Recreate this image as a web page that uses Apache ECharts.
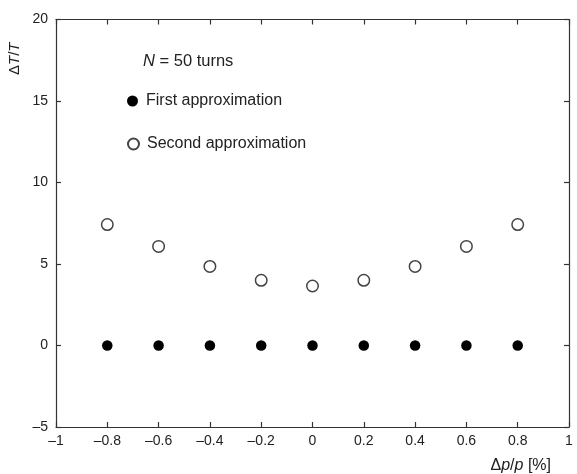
<!DOCTYPE html>
<html><head><meta charset="utf-8">
<script src="https://cdn.jsdelivr.net/npm/echarts@6/dist/echarts.min.js"></script>
<style>html,body{margin:0;padding:0;background:#fff}#c{width:577px;height:474px}</style>
</head><body><div id="c"></div>
<script>
const xValues = [-0.8, -0.6, -0.4, -0.2, 0, 0.2, 0.4, 0.6, 0.8];
const firstApprox = [0, 0, 0, 0, 0, 0, 0, 0, 0];
const secondApprox = [7.42, 6.08, 4.85, 4.0, 3.65, 4.0, 4.85, 6.08, 7.42];
const seriesNames = ['First approximation', 'Second approximation'];
const noteText = '50 turns';

const FONT = 'Liberation Sans, Arial, sans-serif';
const AX = '#333';
const fmt = v => String(Math.round(v*10)/10).replace('-', '\u2013');

const chart = echarts.init(document.getElementById('c'), null, {renderer:'canvas'});
const axisCommon = {
  axisLine:{show:true, onZero:false, lineStyle:{color:AX, width:1.2}},
  axisTick:{show:true, inside:true, length:5, lineStyle:{color:AX, width:1.2}},
  splitLine:{show:false}
};
const legendCommon = {
  orient:'horizontal', left:127, padding:0, itemWidth:11, itemHeight:11, itemGap:0,
  textStyle:{fontFamily:FONT, fontSize:16, color:'#222', padding:[2,0,0,3]}
};
chart.setOption({
  animation:false,
  backgroundColor:'#fff',
  grid:{left:56, right:8, top:19.5, bottom:46},
  xAxis:[
    Object.assign({type:'value', min:-1, max:1, interval:0.2, position:'bottom',
      axisLabel:{color:'#222', fontFamily:FONT, fontSize:14, margin:7, formatter:fmt},
      name:'{d|\u0394}{i|p}{d|/}{i|p}{d| [%]}', nameLocation:'end', nameGap:0,
      nameTextStyle:{align:'right', verticalAlign:'top', padding:[31,18,0,0],
        rich:{d:{fontFamily:FONT, fontSize:16, color:'#222'}, i:{fontFamily:FONT, fontSize:16, fontStyle:'italic', color:'#222'}}}
    }, axisCommon),
    Object.assign({type:'value', min:-1, max:1, interval:0.2, position:'top', axisLabel:{show:false}}, axisCommon)
  ],
  yAxis:[
    Object.assign({type:'value', min:-5, max:20, interval:5, position:'left',
      axisLabel:{color:'#222', fontFamily:FONT, fontSize:14, margin:8, formatter:fmt},
      name:'{d|\u0394}{i|T}{d|/}{i|T}', nameLocation:'end', nameRotate:90, nameGap:0,
      nameTextStyle:{align:'right', verticalAlign:'bottom', padding:[0,23,34,0],
        rich:{d:{fontFamily:FONT, fontSize:15, color:'#222'}, i:{fontFamily:FONT, fontSize:15, fontStyle:'italic', color:'#222'}}}
    }, axisCommon),
    Object.assign({type:'value', min:-5, max:20, interval:5, position:'right', axisLabel:{show:false}}, axisCommon)
  ],
  legend:[
    Object.assign({top:93, data:[{name:seriesNames[0], icon:'circle'}]}, legendCommon),
    Object.assign({top:136, data:[{name:seriesNames[1], icon:'circle'}]}, legendCommon)
  ],
  graphic:[{type:'text', left:143, top:53,
    style:{text:'{i|N}{d| = ' + noteText + '}', rich:{d:{fontFamily:FONT, fontSize:16.5, fill:'#222'}, i:{fontFamily:FONT, fontSize:16.5, fontStyle:'italic', fill:'#222'}}}}],
  series:[
    {name:seriesNames[0], type:'scatter', symbol:'circle', symbolSize:10.5,
      itemStyle:{color:'#000', opacity:1}, data:xValues.map((x,i)=>[x, firstApprox[i]])},
    {name:seriesNames[1], type:'scatter', symbol:'circle', symbolSize:11.5,
      itemStyle:{color:'#fff', borderColor:'#444', borderWidth:1.5, opacity:1}, data:xValues.map((x,i)=>[x, secondApprox[i]])}
  ]
});
</script></body></html>
